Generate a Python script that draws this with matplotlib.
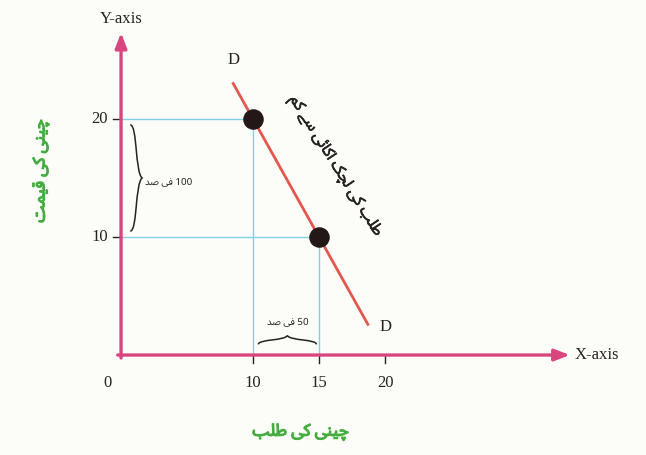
import re
import matplotlib
matplotlib.use("Agg")
import matplotlib.pyplot as plt
import matplotlib.patheffects as pe
from matplotlib.path import Path
from matplotlib.patches import PathPatch

# ---- data -------------------------------------------------------------
quantity = [10, 15]          # demand for sugar
price = [20, 10]             # price of sugar
demand_x = [8.5, 18.7]       # D ... D line ends
demand_y = [23.0, 2.6]
x_ticks = [0, 10, 15, 20]
y_ticks = [10, 20]
x_axis_end = 34.0
y_axis_end = 27.3

y_title = "چینی کی قیمت"
x_title = "چینی کی طلب"
curve_note = "طلب کی لچک اکائی سے کم"
price_change = "100 فی صد"
qty_change = "50 فی صد"

# ---- minimal Arabic-script shaping (presentation forms + visual order) --
# (isolated, final, initial, medial)
FORMS = {
    'ا': ('\uFE8D', '\uFE8E', None, None),
    'د': ('\uFEA9', '\uFEAA', None, None),
    'ے': ('\uFBAE', '\uFBAF', None, None),
    'ب': ('\uFE8F', '\uFE90', '\uFE91', '\uFE92'),
    'ت': ('\uFE95', '\uFE96', '\uFE97', '\uFE98'),
    'ط': ('\uFEC1', '\uFEC2', '\uFEC3', '\uFEC4'),
    'ل': ('\uFEDD', '\uFEDE', '\uFEDF', '\uFEE0'),
    'ک': ('\uFB8E', '\uFB8F', '\uFB90', '\uFB91'),
    'ی': ('\uFBFC', '\uFBFD', '\uFBFE', '\uFBFF'),
    'چ': ('\uFB7A', '\uFB7B', '\uFB7C', '\uFB7D'),
    'ن': ('\uFEE5', '\uFEE6', '\uFEE7', '\uFEE8'),
    'ق': ('\uFED5', '\uFED6', '\uFED7', '\uFED8'),
    'م': ('\uFEE1', '\uFEE2', '\uFEE3', '\uFEE4'),
    'س': ('\uFEB1', '\uFEB2', '\uFEB3', '\uFEB4'),
    'ئ': ('\uFE89', '\uFE8A', '\uFE8B', '\uFE8C'),
    'ف': ('\uFED1', '\uFED2', '\uFED3', '\uFED4'),
    'ص': ('\uFEB9', '\uFEBA', '\uFEBB', '\uFEBC'),
}


def dual(c):
    return c in FORMS and FORMS[c][2] is not None


def shape(s):
    out = []
    for i, c in enumerate(s):
        if c not in FORMS:
            out.append(c)
            continue
        prev_c = s[i - 1] if i > 0 else ''
        next_c = s[i + 1] if i + 1 < len(s) else ''
        jp = dual(prev_c)
        jn = dual(c) and next_c in FORMS
        iso, fin, ini, med = FORMS[c]
        if jp and jn:
            out.append(med)
        elif jp:
            out.append(fin)
        elif jn:
            out.append(ini)
        else:
            out.append(iso)
    vis = ''.join(reversed(out))
    return re.sub(r'[0-9]+', lambda m: m.group(0)[::-1], vis)


# ---- figure -------------------------------------------------------------
BG = "#fcfcf8"
PINK = "#d8457f"
RED = "#e4574f"
CYAN = "#86cfe0"
GREEN = "#45ad3f"
INK = "#262222"
URDU = ["Noto Sans Arabic", "DejaVu Sans"]
SERIF = ["Liberation Serif", "DejaVu Serif"]


def heavy(color, w):
    return [pe.withStroke(linewidth=w, foreground=color)]


fig = plt.figure(figsize=(6.46, 4.55), dpi=100, facecolor=BG)
ax = fig.add_axes([0, 0, 1, 1], facecolor=BG)
ax.set_xlim(-9.17, 39.77)
ax.set_ylim(-8.47, 30.08)
ax.axis("off")

# guide lines from the two points to the axes
for qx, py in zip(quantity, price):
    ax.plot([0, qx], [py, py], color=CYAN, lw=1.0, zorder=1)
    ax.plot([qx, qx], [0, py], color=CYAN, lw=1.0, zorder=1)

# axes with arrowheads
ax.annotate("", xy=(x_axis_end, 0), xytext=(-0.25, 0),
            arrowprops=dict(arrowstyle="-|>,head_length=0.9,head_width=0.35",
                            color=PINK, lw=2.4, shrinkA=0, shrinkB=0), zorder=3)
ax.annotate("", xy=(0, y_axis_end), xytext=(0, -0.25),
            arrowprops=dict(arrowstyle="-|>,head_length=0.9,head_width=0.35",
                            color=PINK, lw=2.4, shrinkA=0, shrinkB=0), zorder=3)

# tick marks and labels
for t in x_ticks[1:]:
    ax.plot([t, t], [0, -0.65], color=INK, lw=1.0, zorder=2)
for t in x_ticks:
    ax.text(t - (1.0 if t == 0 else 0), -2.4, str(t), ha="center", va="center",
            fontsize=12, family=SERIF, color=INK)
for t in y_ticks:
    ax.plot([-0.6, 0], [t, t], color=INK, lw=1.0, zorder=2)
    ax.text(-1.0, t, str(t), ha="right", va="center",
            fontsize=12, family=SERIF, color=INK)

ax.text(0, 28.5, "Y-axis", ha="center", va="center", fontsize=12,
        family=SERIF, color=INK)
ax.text(34.4, 0, "X-axis", ha="left", va="center", fontsize=12,
        family=SERIF, color=INK)

# demand curve
ax.plot(demand_x, demand_y, color=RED, lw=2.0, zorder=4)
ax.scatter(quantity, price, s=190, color="#231717", zorder=5)
ax.text(demand_x[0], 25.0, "D", ha="center", va="center", fontsize=12,
        family=SERIF, color=INK)
ax.text(20.0, 2.4, "D", ha="center", va="center", fontsize=12,
        family=SERIF, color=INK)

# Urdu labels
ax.text(-6.1, 15.6, shape(y_title), rotation=90, ha="center", va="center",
        fontsize=12, family=URDU, color=GREEN,
        path_effects=heavy(GREEN, 0.9))
ax.text(13.6, -6.5, shape(x_title), ha="center", va="center",
        fontsize=12, family=URDU, color=GREEN,
        path_effects=heavy(GREEN, 0.9))
ax.text(16.2, 16.0, shape(curve_note), rotation=-58, ha="center",
        va="center", fontsize=11, family=URDU, color=INK,
        rotation_mode="anchor", path_effects=heavy(INK, 0.5))
ax.text(3.6, 14.7, shape(price_change), ha="center", va="center",
        fontsize=7, family=URDU, color=INK)
ax.text(12.6, 2.8, shape(qty_change), ha="center", va="center",
        fontsize=7, family=URDU, color=INK)


def brace(x0, y0, x1, y1, depth, vertical):
    """Curly brace between two points; depth is the tip offset."""
    d = depth
    if vertical:
        ym = (y0 + y1) / 2
        h = y1 - y0
        verts = [(x0, y0), (x0 + d * 0.6, y0), (x0 + d * 0.4, y0 + h * 0.45),
                 (x0 + d, ym),
                 (x0 + d * 0.4, y0 + h * 0.55), (x0 + d * 0.6, y1), (x0, y1)]
    else:
        xm = (x0 + x1) / 2
        w = x1 - x0
        verts = [(x0, y0), (x0, y0 + d * 0.6), (x0 + w * 0.45, y0 + d * 0.4),
                 (xm, y0 + d),
                 (x0 + w * 0.55, y0 + d * 0.4), (x1, y0 + d * 0.6), (x1, y0)]
    codes = [Path.MOVETO, Path.CURVE4, Path.CURVE4, Path.CURVE4,
             Path.CURVE4, Path.CURVE4, Path.CURVE4]
    ax.add_patch(PathPatch(Path(verts, codes), fill=False, ec=INK, lw=1.1,
                           zorder=3))


brace(0.7, 19.5, 0.7, 10.5, 0.9, vertical=True)
brace(10.4, 0.9, 14.8, 0.9, 0.75, vertical=False)

fig.savefig("out.png", dpi=100, facecolor=BG)
